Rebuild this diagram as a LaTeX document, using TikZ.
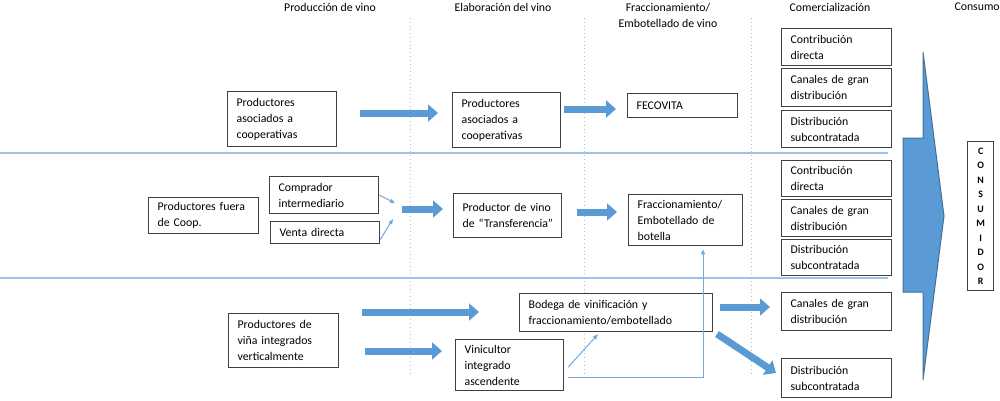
\documentclass[tikz,border=0pt]{standalone}
\usepackage{fontspec}
\setmainfont{Carlito}
\usetikzlibrary{arrows.meta,calc}

\definecolor{azul}{HTML}{5B9BD5}
\definecolor{azulborde}{HTML}{41719C}
\definecolor{azulclaro}{HTML}{9DC3E6}
\definecolor{borde}{HTML}{404040}

\newlength\px
\setlength\px{0.025cm}
\newcommand\cajafont{\fontsize{8.4}{11.4}\selectfont}

\tikzset{
  caja/.style 2 args={draw=borde, line width=1.2\px, fill=white, anchor=north west,
    inner xsep=9\px, inner ysep=1\px, text width=#1\px, minimum height=#2\px,
    align=left, font=\cajafont},
  flecha/.style={draw=azul, line width=7\px, -{Triangle[length=0.25cm,width=0.42cm]}},
  flechita/.style={draw=azul!85, line width=1\px, -{Triangle[length=0.13cm,width=0.1cm]}},
  separador/.style={draw=azulclaro, line width=1.5\px},
  guia/.style={draw=azulclaro, dotted, line width=1\px},
  titulo/.style={font=\cajafont, align=center, inner sep=0pt}
}

\begin{document}
\begin{tikzpicture}[x=0.025cm, y=-0.025cm]
  \useasboundingbox[fill=white] (0,0) rectangle (1000,401);

  % Columnas y filas
  \foreach \xg in {410,584,751}
    \draw[guia] (\xg,18) -- (\xg,376);
  \draw[separador] (0,153) -- (888,153);
  \draw[separador] (0,278) -- (888,278);

  % Titulos de las etapas
  \node[titulo] (tprod) at (330,7) {Producción de vino};
  \node[titulo] (telab) at (503,7) {Elaboración del vino};
  \node[titulo] (tfrac) at (668,15) {Fraccionamiento/\\Embotellado de vino};
  \node[titulo] (tcom) at (830,7) {Comercialización};
  \node[titulo, anchor=east] (tcons) at (1000,7) {Consumo};

  % Fila de cooperativas
  \node[caja={91}{55}] (asoc) at (227,91) {Productores\\asociados a\\cooperativas};
  \node[caja={90}{55}] (asocelab) at (452,92) {Productores\\asociados a\\cooperativas};
  \node[caja={92}{24}] (fecovita) at (627,93) {FECOVITA};
  \draw[flecha] (360,113) -- (438,113);
  \draw[flecha] (564,109) -- (616,109);

  % Fila de productores fuera de cooperativas
  \node[caja={92}{36}] (fuera) at (148,197) {Productores fuera\\de Coop.};
  \node[caja={91}{37}] (comprador) at (269,176) {Comprador\\intermediario};
  \node[caja={91}{22}] (venta) at (270,221) {Venta directa};
  \node[caja={98}{44}, inner xsep=5\px] (transf) at (453,193) {\hspace*{4\px}Productor de vino\\\hspace*{4\px}de “Transferencia”};
  \node[caja={96}{51}] (fracc) at (628,194) {Fraccionamiento/\\Embotellado de\\botella};
  \draw[flechita] (comprador.east) -- (395,203);
  \draw[flechita] ($(venta.east)+(0,7)$) -- (393,219);
  \draw[flecha] (402,209) -- (443,209);
  \draw[flecha] (577,212) -- (617,212);

  % Fila de integracion vertical
  \node[caja={92}{54}] (vertical) at (228,313) {Productores de\\viña integrados\\verticalmente};
  \node[caja={175}{38}] (bodega) at (519,293) {Bodega de vinificación y\\fraccionamiento/embotellado};
  \node[caja={90}{51}] (vinicultor) at (455,339) {Vinicultor\\integrado\\ascendente};
  \draw[flecha] (362,312) -- (479,312);
  \draw[flecha] (365,351) -- (442,351);
  \draw[flechita] ($(vinicultor.east)+(4,2)$) -- ($(bodega.south west)+(79,2)$);
  \draw[flechita] ($(vinicultor.east)+(4,12)$) -| ($(fracc.south west)+(75,3)$);
  \draw[flecha] (720,307) -- (770,307);
  \draw[flecha] (717,334) -- (776,373);

  % Canales de comercializacion
  \node[caja={92}{37}] (contrib1) at (781,28) {Contribución\\directa};
  \node[caja={92}{38}] (canales1) at (781,68) {Canales de gran\\distribución};
  \node[caja={92}{37}] (subcont1) at (781,110) {Distribución\\subcontratada};
  \node[caja={92}{36}] (contrib2) at (781,160) {Contribución\\directa};
  \node[caja={92}{37}] (canales2) at (781,199) {Canales de gran\\distribución};
  \node[caja={92}{36}] (subcont2) at (781,239) {Distribución\\subcontratada};
  \node[caja={92}{38}] (canales3) at (781,292) {Canales de gran\\distribución};
  \node[caja={92}{39}] (subcont3) at (781,358) {Distribución\\subcontratada};

  % Flecha hacia el consumidor
  \draw[fill=azul, draw=azulborde, line width=1\px]
    (903,138) -- (923,138) -- (923,52) -- (944,216) -- (923,380)
    -- (923,292) -- (903,292) -- cycle;
  \node[draw=borde, line width=1.2\px, anchor=north west, minimum width=26\px,
    minimum height=149\px, inner sep=0pt, align=center,
    font=\fontsize{7}{10.3}\selectfont\bfseries] (consumidor) at (967,141)
    {C\\O\\N\\S\\U\\M\\I\\D\\O\\R};
\end{tikzpicture}
\end{document}
